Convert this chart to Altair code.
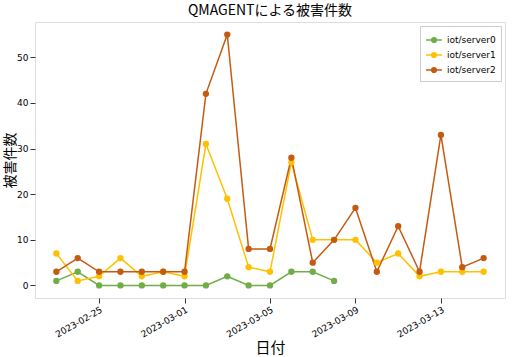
import altair as alt
import pandas as pd

dates = pd.date_range("2023-02-23", "2023-03-15", freq="D").strftime("%Y-%m-%d").tolist()
server0 = [1, 3, 0, 0, 0, 0, 0, 0, 2, 0, 0, 3, 3, 1] + [None] * 7
server1 = [7, 1, 2, 6, 2, 3, 2, 31, 19, 4, 3, 27, 10, 10, 10, 5, 7, 2, 3, 3, 3]
server2 = [3, 6, 3, 3, 3, 3, 3, 42, 55, 8, 8, 28, 5, 10, 17, 3, 13, 3, 33, 4, 6]
series_names = ["iot/server0", "iot/server1", "iot/server2"]
colors = ["#70ad47", "#ffc000", "#c55a11"]
tick_dates = ["2023-02-25", "2023-03-01", "2023-03-05", "2023-03-09", "2023-03-13"]

rows = []
for name, vals in zip(series_names, [server0, server1, server2]):
    for d, v in zip(dates, vals):
        if v is not None:
            rows.append({"date": d, "series": name, "count": v})
df = pd.DataFrame(rows)

def dt(s):
    y, m, d = [int(x) for x in s.split("-")]
    return alt.DateTime(year=y, month=m, date=d, utc=True)

font = "Noto Sans CJK JP"
legend_symbol = (
    "M-1,0L1,0"
    "M-0.3,0a0.3,0.3 0 1,0 0.6,0a0.3,0.3 0 1,0 -0.6,0"
    "M-0.15,0a0.15,0.15 0 1,0 0.3,0a0.15,0.15 0 1,0 -0.3,0"
    "M-0.03,0a0.03,0.03 0 1,0 0.06,0a0.03,0.03 0 1,0 -0.06,0"
)

chart = alt.Chart(df).mark_line(
    point=alt.OverlayMarkDef(size=40, filled=True, opacity=1), strokeWidth=1.5
).encode(
    x=alt.X(
        "date:T",
        scale=alt.Scale(type="utc", domain=[dt("2023-02-22"), dt("2023-03-16")]),
        axis=alt.Axis(
            values=[dt(t) for t in tick_dates],
            format="%Y-%m-%d",
            labelAngle=-30,
            labelAlign="right",
            labelBaseline="top",
            grid=False,
            title="日付",
            titleFontSize=15,
            titleFontWeight="normal",
            titleFont=font,
            titlePadding=2,
            labelFontSize=9,
            tickColor="#333",
            domain=False,
        ),
    ),
    y=alt.Y(
        "count:Q",
        scale=alt.Scale(domain=[-2.75, 57.75], nice=False, zero=False),
        axis=alt.Axis(
            values=[0, 10, 20, 30, 40, 50],
            grid=False,
            title="被害件数",
            titleFontSize=14,
            titleFontWeight="normal",
            titleFont=font,
            titleX=-18,
            titleY=138,
            titleAngle=270,
            titleBaseline="bottom",
            titleAlign="center",
            labelFontSize=9,
            tickColor="#333",
            domain=False,
        ),
    ),
    color=alt.Color(
        "series:N",
        scale=alt.Scale(domain=series_names, range=colors),
        legend=alt.Legend(
            title=None,
            orient="top-right",
            symbolType=legend_symbol,
            symbolSize=250,
            symbolStrokeWidth=1.5,
            labelFontSize=9,
            rowPadding=-3,
            strokeColor="#cccccc",
            padding=5,
            fillColor="white",
            offset=4,
        ),
    ),
).properties(
    width=470,
    height=276,
    title=alt.Title("QMAGENTによる被害件数", fontSize=14, fontWeight="normal", font=font, offset=4),
    autosize=alt.AutoSizeParams(type="none"),
    padding={"left": 35, "top": 22, "right": 8, "bottom": 59},
).configure_view(
    stroke="#333333", strokeWidth=1
).configure(font="DejaVu Sans")

chart.save("out.html", embed_options={"renderer": "svg", "actions": False})
